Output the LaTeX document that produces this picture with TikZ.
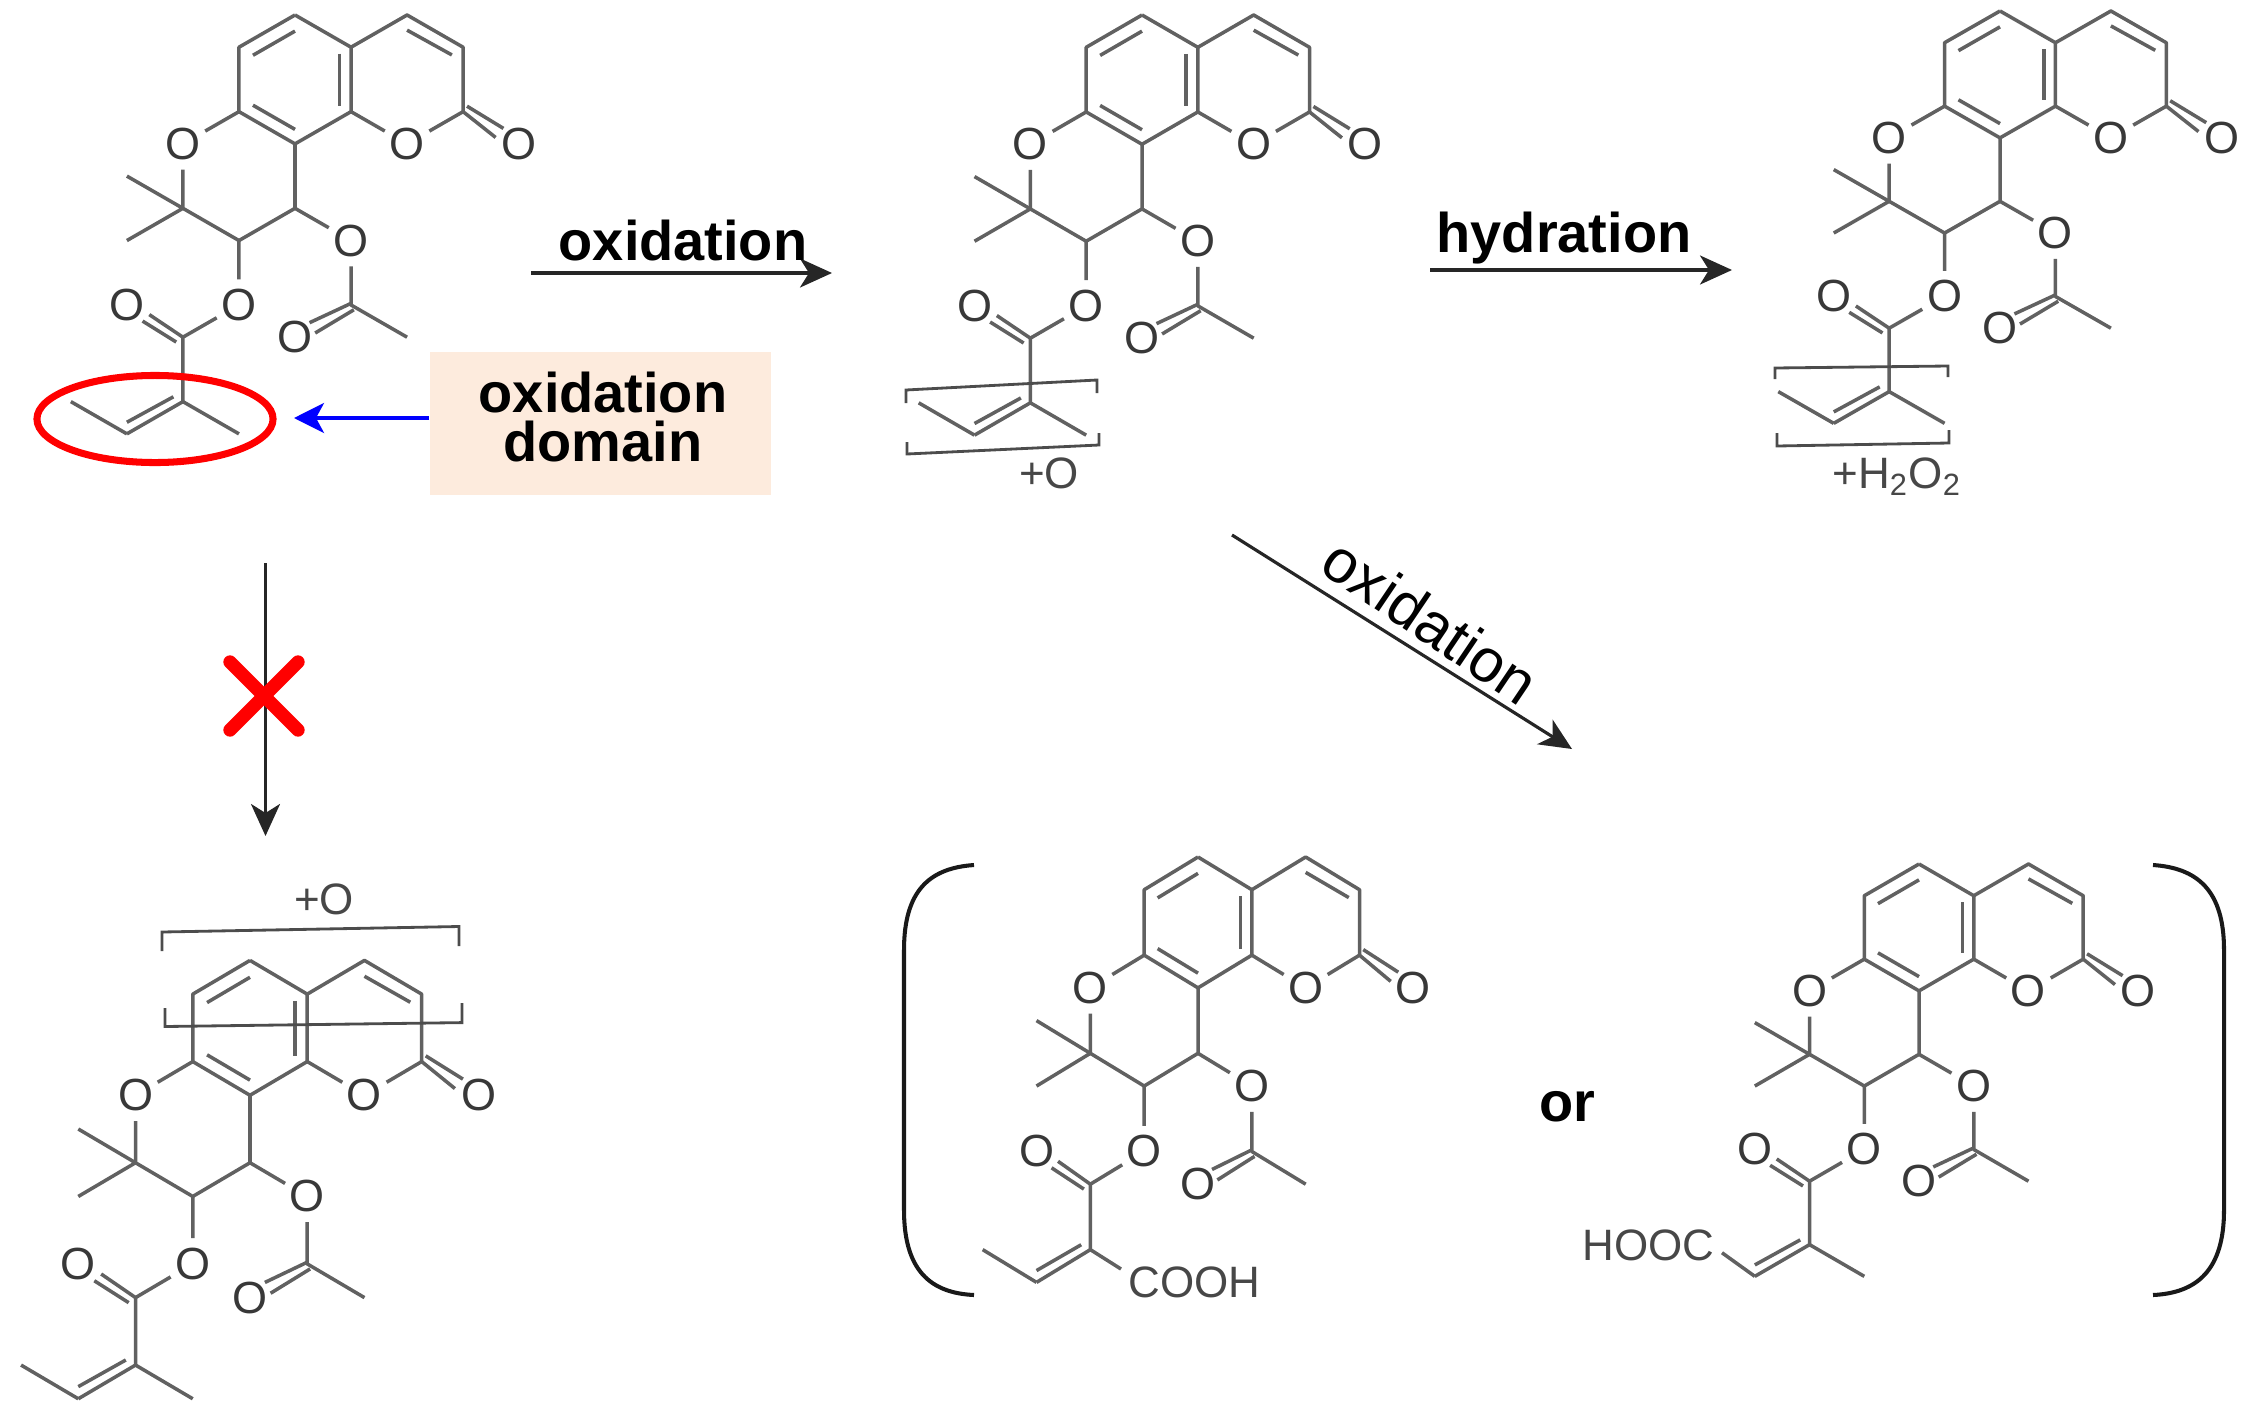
\documentclass[tikz,border=0pt]{standalone}
\usepackage{fontspec}
\setmainfont{Liberation Sans}
\usetikzlibrary{arrows.meta,shapes.geometric}
\definecolor{peach}{HTML}{FDEBDD}
\tikzset{
	bond/.style={line width=1pt,black!62,line join=round},
	link/.style={line width=.9pt,black!85,-{Stealth[length=.32cm,width=.29cm,inset=.09cm]}},
	cage/.style={line width=.8pt,black!70},
	curl/.style={line width=1.15pt,black!90},
	atom/.style={circle,inner sep=0pt,minimum size=.5cm,text=black!78,font=\fontsize{12.8}{14}\selectfont},
	group/.style={inner sep=2pt,text=black!72,font=\fontsize{12.5}{14}\selectfont},
	step name/.style={inner sep=0pt,font=\fontsize{15.9}{14.2}\selectfont\bfseries},
	pics/chromene/.style 2 args={code={
		\begin{scope}[x=#1,y=-#2]
		\coordinate (a) at (0,0);
		\coordinate (b) at (-1,1);
		\coordinate (c) at (-1,3);
		\coordinate (d) at (0,4);
		\coordinate (e) at (1,3);
		\coordinate (f) at (1,1);
		\coordinate (g) at (2,0);
		\coordinate (h) at (3,1);
		\coordinate (i) at (3,3);
		\coordinate (j) at (-2,6);
		\coordinate (k) at (-3,5);
		\coordinate (l) at (-3,7);
		\coordinate (m) at (-1,7);
		\coordinate (n) at (0,6);
		\coordinate (p) at (1,9);
		\coordinate (q) at (2,10);
		\coordinate (r) at (-2,10);
		\coordinate (s) at (-2,12);
		\coordinate (t) at (-3,13);
		\coordinate (u) at (-4,12);
		\coordinate (v) at (-1,13);
		\node[atom] (o1) at (2,4) {O};
		\node[atom] (o2) at (4,4) {O};
		\node[atom] (o3) at (-2,4) {O};
		\node[atom] (o4) at (1,7) {O};
		\node[atom] (o5) at (0,10) {O};
		\node[atom] (o6) at (-1,9) {O};
		\node[atom] (o7) at (-3,9) {O};
		\draw[bond] (a) -- (b) -- (c) -- (d) -- (e) -- (f) -- (a);
		\draw[bond] (f) -- (g) -- (h) -- (i) -- (o1) -- (e);
		\draw[bond] (c) -- (o3) -- (j) -- (m) -- (n) -- (d);
		\draw[bond] (k) -- (j) -- (l);
		\draw[bond] (n) -- (o4) -- (p) -- (q);
		\draw[bond] (m) -- (o6) -- (r) -- (s) -- (t);
		% inner strokes of the double bonds
		\draw[bond] (-.75,1.25) -- (0,.5);
		\draw[bond] (-.75,2.8) -- (0,3.55);
		\draw[bond] (.79,1.2) -- (.79,2.82);
		\draw[bond] (2,.47) -- (2.8,1.24);
		\draw[bond] (-2.17,11.85) -- (-3,12.64);
		\draw[bond] (3,3) -- (3.58,3.8);
		\draw[bond] (3.07,2.83) -- (3.72,3.52);
		\draw[bond] (1,8.95) -- (.26,9.55);
		\draw[bond] (1.05,9.15) -- (.36,9.87);
		\draw[bond] (-2,10) -- (-2.6,9.3);
		\draw[bond] (-2.12,10.15) -- (-2.72,9.5);
		\end{scope}
	}},
}
\begin{document}
\begin{tikzpicture}[x=.01cm,y=-.01cm]
	\useasboundingbox (0,0) rectangle (2249,1418);
	% molecules
	\pic (mol1) at (295,15) {chromene={.56cm}{.322cm}};
	\pic (mol2) at (1142,15) {chromene={.558cm}{.323cm}};
	\pic (mol3) at (2000,11) {chromene={.554cm}{.317cm}};
	\pic (mol4) at (250,960.4) {chromene={.572cm}{.337cm}};
	\pic (mol5) at (1198,857) {chromene={.538cm}{.327cm}};
	\pic (mol6) at (1919,864) {chromene={.547cm}{.317cm}};
	\foreach \m in {mol1,mol2,mol3,mol4}{
		\draw[bond] (\m t) -- (\m u);
		\draw[bond] (\m s) -- (\m v);
	}
	\node[group,anchor=west] (acid5) at (1121,1282) {COOH};
	\node[group,anchor=east] (acid6) at (1722,1245) {HOOC};
	\draw[bond] (mol5t) -- (mol5u);
	\draw[bond] (mol5s) -- (acid5.170);
	\draw[bond] (mol6s) -- (mol6v);
	\draw[bond] (mol6t) -- (acid6.-6);
	% arrows
	\coordinate (ox1a) at (531,273);
	\coordinate (ox1b) at (832,273);
	\coordinate (hy1a) at (1430,270);
	\coordinate (hy1b) at (1732,270);
	\coordinate (ox2a) at (1232,535);
	\coordinate (ox2b) at (1572,749);
	\coordinate (noa) at (265.5,563);
	\coordinate (nob) at (265.5,836);
	\draw[link] (ox1a) -- (ox1b);
	\draw[link] (hy1a) -- (hy1b);
	\draw[link] (ox2a) -- (ox2b);
	\draw[link] (noa) -- (nob);
	\node[step name] (oxlabel) at (683,241) {oxidation};
	\node[step name] (hylabel) at (1564,238) {hydration};
	\node[step name] (orlabel) at (1567,1107) {or};
	\node[inner sep=0pt,rotate=-34,font=\fontsize{17.3}{20}\selectfont] (oxdiag) at (1431,621) {oxidation};
	% domain box
	\node[fill=peach,minimum width=3.41cm,minimum height=1.43cm] (domain) at (600.5,423.5) {};
	\node[step name,align=center] (domlabel) at (603,417) {oxidation\\domain};
	\node[draw=red,line width=2pt,ellipse,inner sep=0pt,minimum width=2.36cm,minimum height=.87cm] (ring) at (155,419) {};
	\coordinate (tip) at (294,418);
	\draw[line width=1pt,blue,-{Stealth[length=.3cm,width=.3cm,inset=.08cm]}] (tip -| domain.west) -- (tip);
	% red cross
	\coordinate (x1) at (230,662);
	\coordinate (x2) at (298,730);
	\coordinate (x3) at (298,662);
	\coordinate (x4) at (230,730);
	\draw[red,line width=3.8pt,line cap=round] (x1) -- (x2);
	\draw[red,line width=3.8pt,line cap=round] (x3) -- (x4);
	% added oxygen brackets
	\draw[cage] (906,403) -- (906,390) -- (1097,380) -- (1097,393);
	\draw[cage] (907,442) -- (907,454) -- (1099,445) -- (1099,433);
	\node[group] (plus2) at (1049,473) {+O};
	\draw[cage] (1775,379) -- (1775,368) -- (1948,366) -- (1948,377);
	\draw[cage] (1777,433) -- (1777,446) -- (1949,443) -- (1949,430);
	\node[group] (plus3) at (1897,477) {+H\textsubscript{2}O\textsubscript{2}};
	\draw[cage] (162,951) -- (162,932) -- (459,926.5) -- (459,946);
	\draw[cage] (165,1008) -- (165,1026.5) -- (462,1022.6) -- (462,1003);
	\node[group] (plus4) at (324,899) {+O};
	% large round brackets
	\draw[curl] (974,865) .. controls (930,868) and (904,890) .. (904,950) -- (904,1210) .. controls (904,1270) and (930,1293) .. (974,1295);
	\draw[curl] (2153,865) .. controls (2197,868) and (2224,890) .. (2224,950) -- (2224,1210) .. controls (2224,1270) and (2197,1293) .. (2153,1295);
\end{tikzpicture}
\end{document}
